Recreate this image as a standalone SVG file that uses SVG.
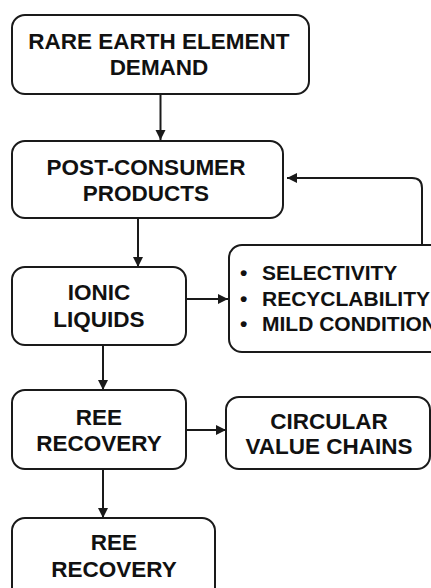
<svg xmlns="http://www.w3.org/2000/svg" width="431" height="588" viewBox="0 0 431 588">
<style>
.box{fill:#fff;stroke:#1a1a1a;stroke-width:2}
.t{font-family:"Liberation Sans",Arial,sans-serif;font-weight:bold;font-size:22.5px;fill:#111;text-anchor:middle}
.b{font-family:"Liberation Sans",Arial,sans-serif;font-weight:bold;font-size:21px;fill:#111}
.c{fill:none;stroke:#1a1a1a;stroke-width:2}
</style>
<defs>
<marker id="ah" markerUnits="userSpaceOnUse" markerWidth="12" markerHeight="12" viewBox="0 0 12 12" refX="10" refY="6" orient="auto">
<path d="M0,1 L10,6 L0,11 Z" fill="#1a1a1a"/>
</marker>
</defs>
<rect width="431" height="588" fill="#fff"/>
<g id="connectors">
<path class="c" d="M160.5,94 V140" marker-end="url(#ah)"/>
<path class="c" d="M138,218 V267" marker-end="url(#ah)"/>
<path class="c" d="M186,299 H228" marker-end="url(#ah)"/>
<path class="c" d="M422,245 V188 Q422,178 412,178 H287" marker-end="url(#ah)"/>
<path class="c" d="M103,345 V390" marker-end="url(#ah)"/>
<path class="c" d="M186,430 H226" marker-end="url(#ah)"/>
<path class="c" d="M103,469 V518" marker-end="url(#ah)"/>
</g>
<g id="n1">
<rect class="box" x="12" y="15" width="297" height="79" rx="13"/>
<text class="t" x="159" y="49">RARE EARTH ELEMENT</text>
<text class="t" x="159" y="75">DEMAND</text>
</g>
<g id="n2">
<rect class="box" x="12" y="141" width="271" height="77" rx="13"/>
<text class="t" x="146" y="175">POST-CONSUMER</text>
<text class="t" x="146" y="201">PRODUCTS</text>
</g>
<g id="n3">
<rect class="box" x="12" y="267" width="174" height="78" rx="13"/>
<text class="t" x="99" y="300">IONIC</text>
<text class="t" x="99" y="327">LIQUIDS</text>
</g>
<g id="n4">
<rect class="box" x="229" y="245" width="220" height="107" rx="13"/>
<text class="b"><tspan x="240" y="280">•</tspan><tspan x="262" y="280">SELECTIVITY</tspan></text>
<text class="b"><tspan x="240" y="306">•</tspan><tspan x="262" y="306">RECYCLABILITY</tspan></text>
<text class="b"><tspan x="240" y="331">•</tspan><tspan x="262" y="331">MILD CONDITIONS</tspan></text>
</g>
<g id="n5">
<rect class="box" x="12" y="390" width="174" height="79" rx="13"/>
<text class="t" x="99" y="425">REE</text>
<text class="t" x="99" y="451">RECOVERY</text>
</g>
<g id="n6">
<rect class="box" x="226" y="397" width="204" height="72" rx="13"/>
<text class="t" x="329" y="429">CIRCULAR</text>
<text class="t" x="329" y="454">VALUE CHAINS</text>
</g>
<g id="n7">
<rect class="box" x="12" y="518" width="203" height="90" rx="13"/>
<text class="t" x="114" y="550">REE</text>
<text class="t" x="114" y="577">RECOVERY</text>
</g>
</svg>
